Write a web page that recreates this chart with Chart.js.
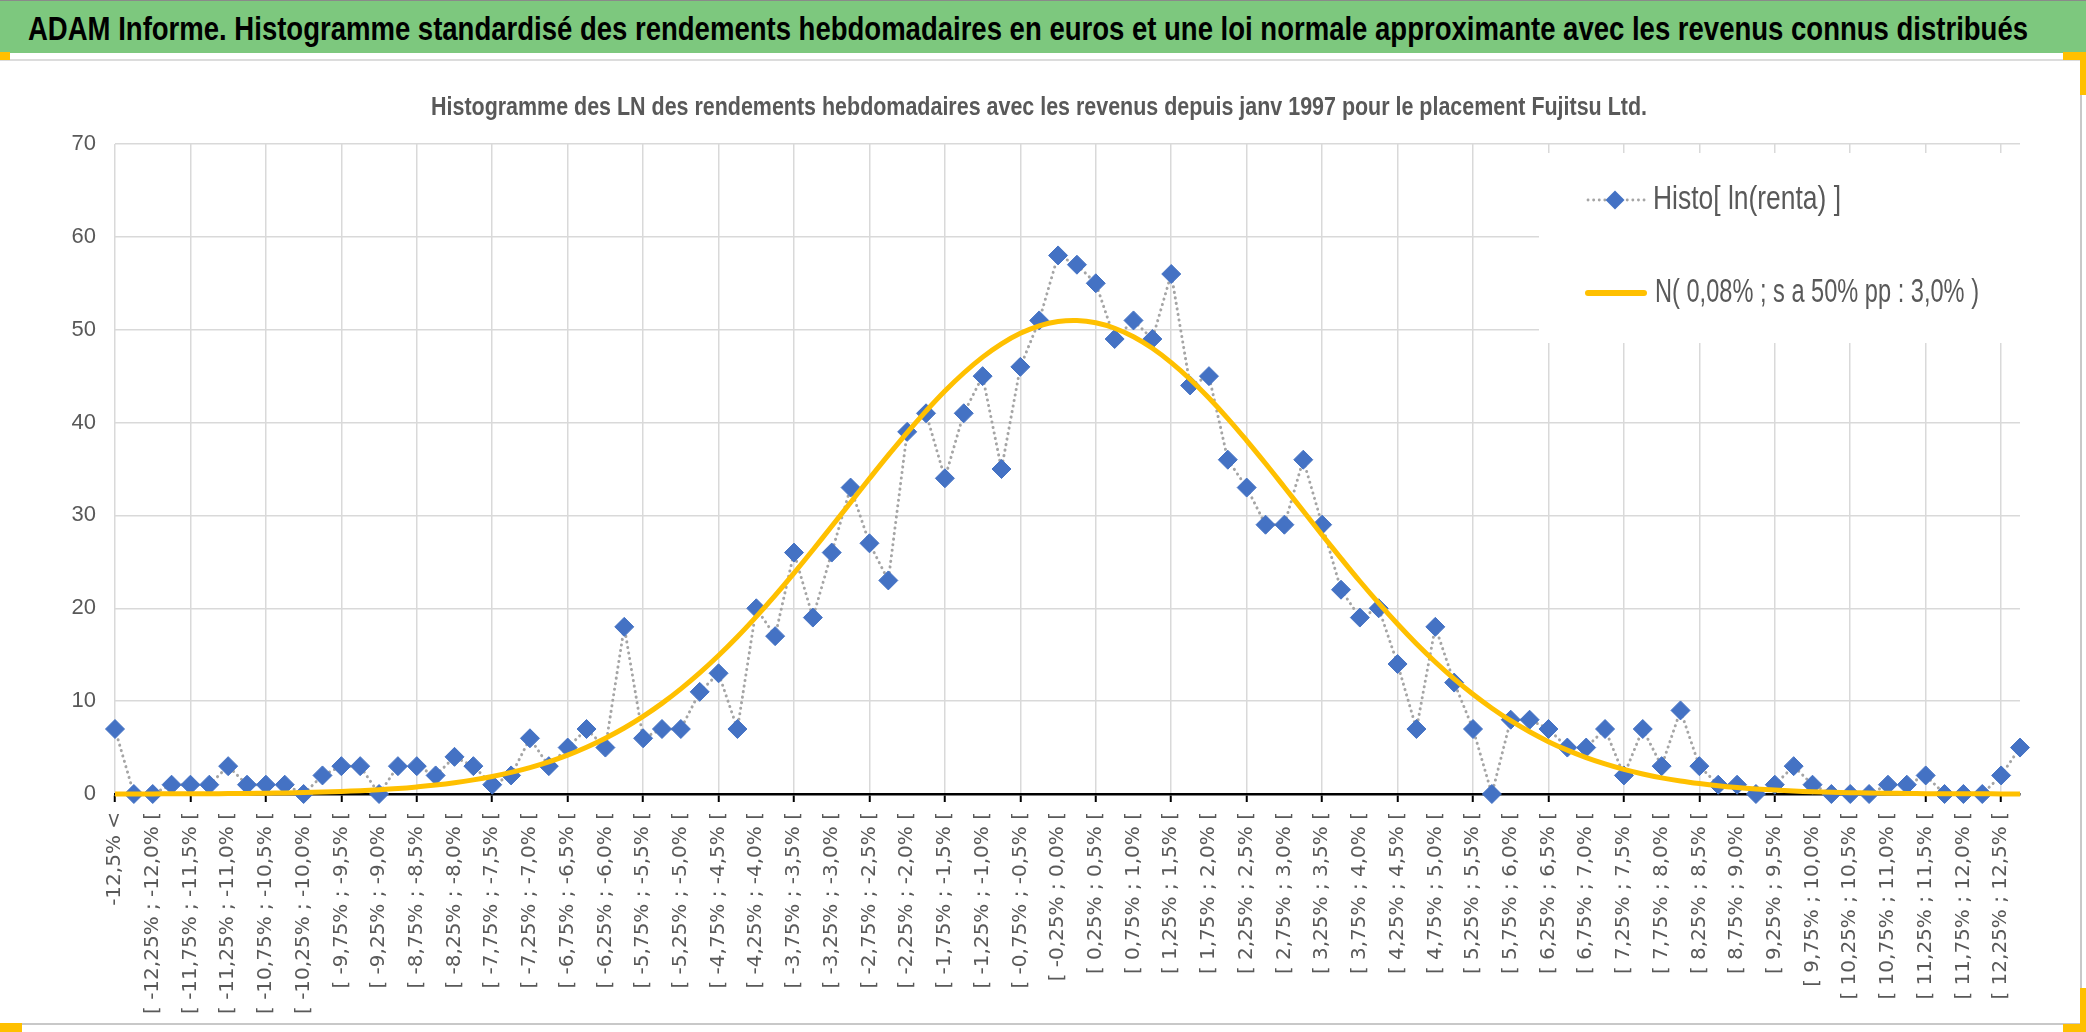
<!DOCTYPE html>
<html><head><meta charset="utf-8">
<script src="https://cdn.jsdelivr.net/npm/chart.js@4.4.1/dist/chart.umd.min.js"></script>
<style>
html,body{margin:0;padding:0;background:#fff;}
body{width:2086px;height:1032px;position:relative;overflow:hidden;font-family:"Liberation Sans",Arial,sans-serif;}
#band{position:absolute;left:0;top:0;width:2086px;height:53px;background:#7DC87E;border-top:1px solid #8a8a8a;box-sizing:border-box;}
#title{position:absolute;left:28px;top:7px;height:44px;line-height:44px;font-size:33px;font-weight:bold;color:#000;white-space:nowrap;transform-origin:0 50%;}
#sep{position:absolute;left:0;top:59px;width:2080px;height:2px;background:#DCDCDC;}
#sub{position:absolute;left:431px;top:90px;height:32px;line-height:32px;font-size:25px;font-weight:bold;color:#595959;white-space:nowrap;transform-origin:0 50%;}
#wrap{position:absolute;left:0;top:61px;width:2080px;height:962px;}
#rb{position:absolute;left:2080px;top:59px;width:2px;height:966px;background:#C8C8C8;}
#bb{position:absolute;left:0;top:1023px;width:2082px;height:2px;background:#C8C8C8;}
.yl{position:absolute;background:#FFC000;}
</style></head>
<body>
<div id="band"></div>
<div id="title">ADAM Informe. Histogramme standardisé des rendements hebdomadaires en euros et une loi normale approximante avec les revenus connus distribués</div>
<div id="sep"></div>
<div id="wrap"><canvas id="c"></canvas></div>
<div id="sub">Histogramme des LN des rendements hebdomadaires avec les revenus depuis janv 1997 pour le placement Fujitsu Ltd.</div>
<div id="rb"></div><div id="bb"></div>
<div class="yl" style="left:0;top:52px;width:10px;height:8px"></div>
<div class="yl" style="left:2063px;top:52px;width:23px;height:8px"></div>
<div class="yl" style="left:2080px;top:52px;width:6px;height:43px"></div>
<div class="yl" style="left:0;top:1023px;width:22px;height:9px"></div>
<div class="yl" style="left:2063px;top:1024px;width:23px;height:8px"></div>
<div class="yl" style="left:2080px;top:988px;width:6px;height:44px"></div>
<script>
const categories = [
"-12,5% <",
"[ -12,5% ; -12,25% [","[ -12,25% ; -12,0% [","[ -12,0% ; -11,75% [","[ -11,75% ; -11,5% [",
"[ -11,5% ; -11,25% [","[ -11,25% ; -11,0% [","[ -11,0% ; -10,75% [","[ -10,75% ; -10,5% [",
"[ -10,5% ; -10,25% [","[ -10,25% ; -10,0% [","[ -10,0% ; -9,75% [","[ -9,75% ; -9,5% [",
"[ -9,5% ; -9,25% [","[ -9,25% ; -9,0% [","[ -9,0% ; -8,75% [","[ -8,75% ; -8,5% [",
"[ -8,5% ; -8,25% [","[ -8,25% ; -8,0% [","[ -8,0% ; -7,75% [","[ -7,75% ; -7,5% [",
"[ -7,5% ; -7,25% [","[ -7,25% ; -7,0% [","[ -7,0% ; -6,75% [","[ -6,75% ; -6,5% [",
"[ -6,5% ; -6,25% [","[ -6,25% ; -6,0% [","[ -6,0% ; -5,75% [","[ -5,75% ; -5,5% [",
"[ -5,5% ; -5,25% [","[ -5,25% ; -5,0% [","[ -5,0% ; -4,75% [","[ -4,75% ; -4,5% [",
"[ -4,5% ; -4,25% [","[ -4,25% ; -4,0% [","[ -4,0% ; -3,75% [","[ -3,75% ; -3,5% [",
"[ -3,5% ; -3,25% [","[ -3,25% ; -3,0% [","[ -3,0% ; -2,75% [","[ -2,75% ; -2,5% [",
"[ -2,5% ; -2,25% [","[ -2,25% ; -2,0% [","[ -2,0% ; -1,75% [","[ -1,75% ; -1,5% [",
"[ -1,5% ; -1,25% [","[ -1,25% ; -1,0% [","[ -1,0% ; -0,75% [","[ -0,75% ; -0,5% [",
"[ -0,5% ; -0,25% [","[ -0,25% ; 0,0% [","[ 0,0% ; 0,25% [","[ 0,25% ; 0,5% [",
"[ 0,5% ; 0,75% [","[ 0,75% ; 1,0% [","[ 1,0% ; 1,25% [","[ 1,25% ; 1,5% [",
"[ 1,5% ; 1,75% [","[ 1,75% ; 2,0% [","[ 2,0% ; 2,25% [","[ 2,25% ; 2,5% [",
"[ 2,5% ; 2,75% [","[ 2,75% ; 3,0% [","[ 3,0% ; 3,25% [","[ 3,25% ; 3,5% [",
"[ 3,5% ; 3,75% [","[ 3,75% ; 4,0% [","[ 4,0% ; 4,25% [","[ 4,25% ; 4,5% [",
"[ 4,5% ; 4,75% [","[ 4,75% ; 5,0% [","[ 5,0% ; 5,25% [","[ 5,25% ; 5,5% [",
"[ 5,5% ; 5,75% [","[ 5,75% ; 6,0% [","[ 6,0% ; 6,25% [","[ 6,25% ; 6,5% [",
"[ 6,5% ; 6,75% [","[ 6,75% ; 7,0% [","[ 7,0% ; 7,25% [","[ 7,25% ; 7,5% [",
"[ 7,5% ; 7,75% [","[ 7,75% ; 8,0% [","[ 8,0% ; 8,25% [","[ 8,25% ; 8,5% [",
"[ 8,5% ; 8,75% [","[ 8,75% ; 9,0% [","[ 9,0% ; 9,25% [","[ 9,25% ; 9,5% [",
"[ 9,5% ; 9,75% [","[ 9,75% ; 10,0% [","[ 10,0% ; 10,25% [","[ 10,25% ; 10,5% [",
"[ 10,5% ; 10,75% [","[ 10,75% ; 11,0% [","[ 11,0% ; 11,25% [","[ 11,25% ; 11,5% [",
"[ 11,5% ; 11,75% [","[ 11,75% ; 12,0% [","[ 12,0% ; 12,25% [","[ 12,25% ; 12,5% [",
"12,5% <="
];

const histoValues = [
7,0,0,1,1,1,3,1,1,1,
0,2,3,3,0,3,3,2,4,3,
1,2,6,3,5,7,5,18,6,7,
7,11,13,7,20,17,26,19,26,33,
27,23,39,41,34,41,45,35,46,51,
58,57,55,49,51,49,56,44,45,36,
33,29,29,36,29,22,19,20,14,7,
18,12,7,0,8,8,7,5,5,7,
2,7,3,9,3,1,1,0,1,3,
1,0,0,0,1,1,2,0,0,0,
2,5
];

const normalValues = [
0.01,0.01,0.01,0.02,0.03,0.03,0.05,0.06,0.09,0.12,
0.16,0.21,0.27,0.36,0.46,0.59,0.76,0.96,1.21,1.52,
1.89,2.33,2.85,3.47,4.19,5.04,6.01,7.11,8.36,9.76,
11.32,13.04,14.91,16.93,19.10,21.39,23.79,26.28,28.83,31.40,
33.97,36.49,38.93,41.24,43.40,45.34,47.05,48.48,49.61,50.42,
50.88,50.99,50.75,50.16,49.24,48.00,46.46,44.67,42.64,40.43,
38.06,35.59,33.04,30.47,27.90,25.38,22.91,20.55,18.30,16.18,
14.22,12.40,10.74,9.24,7.89,6.70,5.64,4.72,3.92,3.24,
2.65,2.16,1.74,1.40,1.12,0.88,0.69,0.54,0.42,0.32,
0.25,0.19,0.14,0.11,0.08,0.06,0.04,0.03,0.02,0.02,
0.01,0.01
];

const seriesNames = ["Histo[ ln(renta) ]", "N( 0,08% ; s a 50% pp : 3,0% )"];
const yMin = 0, yMax = 70, yStep = 10;

function fit(id, w){
  const el = document.getElementById(id);
  el.style.transform = 'none';
  const nat = el.getBoundingClientRect().width;
  el.style.transform = 'scaleX(' + (w / nat) + ')';
}
fit('title', 2000);
fit('sub', 1216);

function drawFitText(ctx, text, x, y, w){
  const m = ctx.measureText(text).width;
  ctx.save();
  ctx.translate(x, y);
  ctx.scale(w / m, 1);
  ctx.fillText(text, 0, 0);
  ctx.restore();
}

const legendInside = {
  id: 'legendInside',
  afterDraw(chart){
    const ctx = chart.ctx;
    const ds = chart.data.datasets;
    ctx.save();
    ctx.fillStyle = '#ffffff';
    ctx.fillRect(1539, 92, 483, 190);
    const y1 = 139, y2 = 232;
    ctx.strokeStyle = ds[0].borderColor;
    ctx.lineWidth = 2.8;
    ctx.lineCap = 'round';
    ctx.setLineDash([0.1, 5.5]);
    ctx.beginPath(); ctx.moveTo(1588, y1); ctx.lineTo(1646, y1); ctx.stroke();
    ctx.setLineDash([]);
    ctx.fillStyle = ds[0].pointBackgroundColor;
    const r = ds[0].pointRadius;
    ctx.beginPath();
    ctx.moveTo(1615 - r, y1); ctx.lineTo(1615, y1 - r); ctx.lineTo(1615 + r, y1); ctx.lineTo(1615, y1 + r);
    ctx.closePath(); ctx.fill();
    ctx.strokeStyle = ds[1].borderColor;
    ctx.lineWidth = 6;
    ctx.lineCap = 'round';
    ctx.beginPath(); ctx.moveTo(1588, y2); ctx.lineTo(1644, y2); ctx.stroke();
    ctx.fillStyle = '#595959';
    ctx.font = '33px "Liberation Sans", Arial, sans-serif';
    ctx.textBaseline = 'middle';
    ctx.textAlign = 'left';
    drawFitText(ctx, ds[0].label, 1653, y1, 188);
    drawFitText(ctx, ds[1].label, 1655, y2, 324);
    ctx.restore();
  }
};

new Chart(document.getElementById('c'), {
  type: 'line',
  data: {
    labels: categories,
    datasets: [
      {
        label: seriesNames[0],
        data: histoValues,
        borderColor: '#A5A5A5',
        borderWidth: 3,
        borderDash: [0.1, 5.5],
        borderCapStyle: 'round',
        pointStyle: 'rectRot',
        pointRadius: 9.5,
        pointHoverRadius: 9.5,
        pointBackgroundColor: '#4472C4',
        pointBorderColor: '#4472C4',
        pointBorderWidth: 1,
        tension: 0,
        fill: false,
        order: 2,
        clip: false
      },
      {
        label: seriesNames[1],
        data: normalValues,
        borderColor: '#FFC000',
        borderWidth: 5,
        pointRadius: 0,
        pointHoverRadius: 0,
        tension: 0.4,
        fill: false,
        order: 1,
        clip: false
      }
    ]
  },
  options: {
    responsive: true,
    maintainAspectRatio: false,
    animation: false,
    events: [],
    layout: { padding: { left: 0, top: 83, right: 60, bottom: 0 } },
    plugins: {
      legend: { display: false },
      title: { display: false },
      tooltip: { enabled: false }
    },
    scales: {
      x: {
        type: 'category',
        offset: false,
        grid: {
          color: c => (c.index % 4 === 0 ? '#D9D9D9' : 'rgba(0,0,0,0)'),
          lineWidth: 1.5,
          tickColor: c => (c.index % 4 === 0 ? '#000000' : 'rgba(0,0,0,0)'),
          tickLength: 8,
          tickWidth: 2
        },
        border: { color: '#000000', width: 2.5 },
        ticks: {
          autoSkip: false,
          maxRotation: 90,
          minRotation: 90,
          padding: 10,
          color: '#595959',
          font: { family: 'DejaVu Sans', size: 20 },
          callback: (v, i) => (i % 2 === 0 ? categories[i] : '')
        },
        afterFit: s => { s.height = 229; }
      },
      y: {
        min: yMin,
        max: yMax,
        ticks: {
          stepSize: yStep,
          padding: 19,
          color: '#595959',
          font: { family: 'Liberation Sans', size: 22 }
        },
        grid: { color: '#D9D9D9', lineWidth: 1.5, drawTicks: false },
        border: { display: false },
        afterFit: s => { s.width = 115; }
      }
    }
  },
  plugins: [legendInside]
});
</script>
</body></html>
